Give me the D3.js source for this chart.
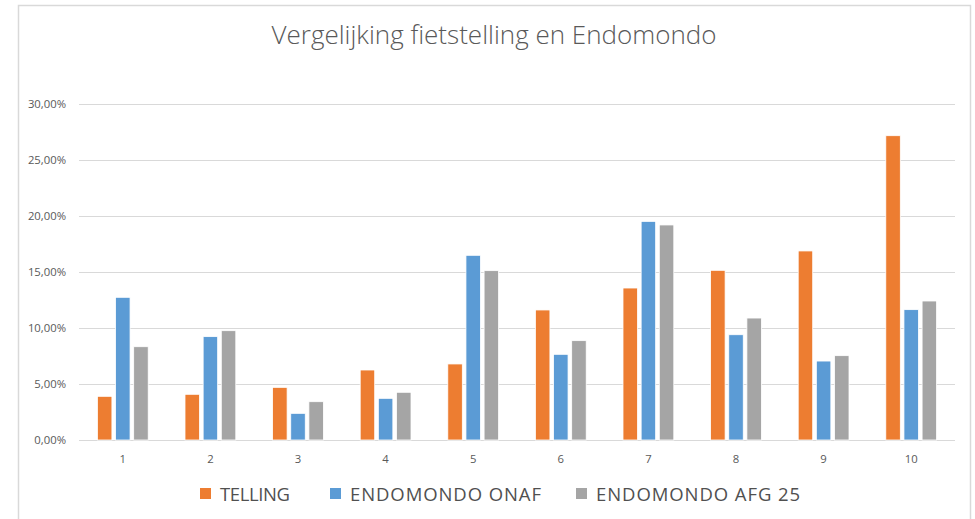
<!DOCTYPE html>
<html>
<head>
<meta charset="utf-8">
<script src="https://cdn.jsdelivr.net/npm/d3@7"></script>
<style>
  html, body { margin: 0; padding: 0; background: #fff; }
  svg { display: block; }
</style>
</head>
<body>
<svg id="chart" width="975" height="519"></svg>
<script>
const categories = ["1", "2", "3", "4", "5", "6", "7", "8", "9", "10"];
const seriesNames = ["TELLING", "ENDOMONDO ONAF", "ENDOMONDO AFG 25"];
const telling = [3.90, 4.08, 4.70, 6.25, 6.79, 11.61, 13.57, 15.15, 16.88, 27.17];
const endomondoOnaf = [12.74, 9.23, 2.38, 3.72, 16.49, 7.65, 19.52, 9.40, 7.05, 11.64];
const endomondoAfg25 = [8.33, 9.76, 3.42, 4.26, 15.12, 8.87, 19.20, 10.89, 7.53, 12.41];
const yTicks = [0, 5, 10, 15, 20, 25, 30];
const title = "Vergelijking fietstelling en Endomondo";

const colors = ["#ED7D31", "#5B9BD5", "#A5A5A5"];
const seriesValues = [telling, endomondoOnaf, endomondoAfg25];
const textColor = "#595959";
const gridColor = "#D9D9D9";
const font = "'Open Sans', 'Liberation Sans', sans-serif";

const svg = d3.select("#chart");
svg.append("rect").attr("width", 975).attr("height", 519).attr("fill", "#fff");

// chart area border
svg.append("path")
  .attr("d", "M18.5,525V5.5H970.5V525")
  .attr("fill", "none").attr("stroke", "#D9D9D9").attr("stroke-width", 1.5);

const plot = { left: 79, right: 955, top: 104, bottom: 440 };

const x0 = d3.scaleBand().domain(categories)
  .range([plot.left, plot.right]).paddingInner(0.42).paddingOuter(0.21);
const x1 = d3.scaleBand().domain(seriesNames)
  .range([0, x0.bandwidth()]).paddingInner(0.2);
const y = d3.scaleLinear().domain([0, 30]).range([plot.bottom, plot.top]);

// gridlines
svg.append("g").selectAll("line").data(yTicks).join("line")
  .attr("x1", plot.left).attr("x2", plot.right)
  .attr("y1", d => Math.round(y(d)) + 0.5).attr("y2", d => Math.round(y(d)) + 0.5)
  .attr("stroke", gridColor).attr("stroke-width", 1.2);

// y axis
const yAxis = d3.axisLeft(y).tickValues(yTicks)
  .tickSize(0).tickPadding(13)
  .tickFormat(d => d3.format(".2f")(d).replace(".", ",") + "%");
const gy = svg.append("g").attr("transform", `translate(${plot.left},0)`).call(yAxis);
gy.select(".domain").remove();
gy.selectAll("text").attr("fill", textColor).style("font-family", font).style("font-size", "11.3px");

// x axis
const xAxis = d3.axisBottom(x0).tickSize(0).tickPadding(15);
const gx = svg.append("g").attr("transform", `translate(0,${plot.bottom})`).call(xAxis);
gx.select(".domain").remove();
gx.selectAll("text").attr("fill", textColor).style("font-family", font).style("font-size", "11.3px");

// bars
const rows = categories.map((c, i) => ({ cat: c, vals: seriesNames.map((s, j) => ({ s, j, v: seriesValues[j][i] })) }));
const groups = svg.append("g").selectAll("g").data(rows).join("g")
  .attr("transform", d => `translate(${x0(d.cat)},0)`);
groups.selectAll("rect").data(d => d.vals).join("rect")
  .attr("x", d => x1(d.s))
  .attr("width", x1.bandwidth())
  .attr("y", d => y(d.v))
  .attr("height", d => y(0) - y(d.v))
  .attr("fill", d => colors[d.j])
  .attr("stroke", "#fff").attr("stroke-width", 0.8);

// title
const t = svg.append("text")
  .attr("x", 494).attr("y", 44)
  .attr("text-anchor", "middle")
  .attr("fill", textColor)
  .style("font-family", font).style("font-weight", 300)
  .style("font-size", "25px")
  .text(title);
const tw = t.node().getComputedTextLength();
t.style("font-size", (25 * 445 / tw).toFixed(2) + "px");

// legend
const legendX = [200, 330, 576];
const legendW = [70, 191, 204];
const leg = svg.append("g").selectAll("g").data(seriesNames).join("g")
  .attr("transform", (d, i) => `translate(${legendX[i]},0)`);
leg.append("rect").attr("x", 0).attr("y", 488).attr("width", 11).attr("height", 11)
  .attr("fill", (d, i) => colors[i]);
leg.append("text").attr("x", 20).attr("y", 501)
  .attr("fill", "#505050")
  .style("font-family", font).style("font-size", "18.5px")
  .text(d => d)
  .each(function(d, i) {
    const w = this.getComputedTextLength();
    const n = d.length;
    const ls = (legendW[i] - w) / (n - 1);
    d3.select(this).style("letter-spacing", ls.toFixed(2) + "px");
  });
</script>
</body>
</html>
